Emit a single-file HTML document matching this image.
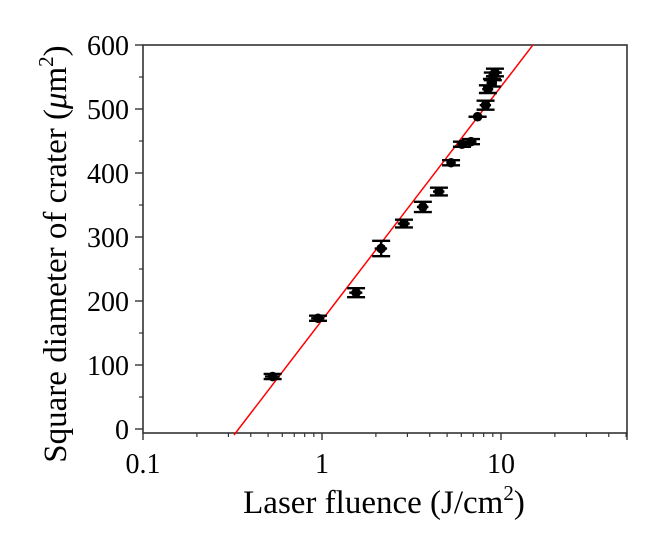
<!DOCTYPE html>
<html><head><meta charset="utf-8"><style>
html,body{margin:0;padding:0;background:#fff;}
svg{display:block;font-family:"Liberation Serif",serif;}
</style></head><body>
<svg id="chart" width="659" height="534" viewBox="0 0 659 534" xmlns="http://www.w3.org/2000/svg">
<g id="axes"></g>
<g id="marks"></g>
<text x="384" y="513" font-size="33" text-anchor="middle">Laser fluence (J/cm<tspan font-size="21" dy="-13">2</tspan><tspan dy="13">)</tspan></text>
<text transform="translate(66,254) rotate(-90)" font-size="33" text-anchor="middle">Square diameter of  crater (<tspan font-style="italic">μ</tspan>m<tspan font-size="21" dy="-13">2</tspan><tspan dy="13">)</tspan></text>
</svg>
<script>
const fluence=[0.53,0.95,1.55,2.14,2.87,3.66,4.5,5.26,6.05,6.8,7.4,8.2,8.45,8.9,9.0,9.25];
const diameterSq=[82,173,213,282,321,347,371,416,445,449,488,506,531,541,551,557];
const xErr=[0.05,0.08,0.13,0.17,0.22,0.27,0.33,0.25,0.3,0.5,0.3,0.6,0.6,0.6,0.65,0.7];
const yErr=[4,4,7,12,6,8,6,4,4,4,0,7,6,6,6,6];
const fitIntercept=170, fitSlope=365;
const yTicks=[0,100,200,300,400,500,600];
const xTicks=[0.1,1,10];
const xTickLabels=["0.1","1","10"];
const L=143,R=627,T=45,B=433;
const X=v=>L+(Math.log10(v)+1)*179;
const Y=v=>429-v*0.64;
const NS="http://www.w3.org/2000/svg";
function mk(p,tag,at){const e=document.createElementNS(NS,tag);for(const k in at)e.setAttribute(k,at[k]);p.appendChild(e);return e;}
const ax=document.getElementById('axes'), mg=document.getElementById('marks');
let f=mk(ax,'rect',{x:L,y:T,width:R-L,height:B-T,fill:'none',stroke:'#333','stroke-width':1.6});


yTicks.forEach(v=>{
 let t=mk(ax,'line',{x1:L-8,x2:L,y1:Y(v),y2:Y(v),stroke:'#333','stroke-width':1.4});
 
 
 if(v<600){let m=mk(ax,'line',{x1:L-4,x2:L,y1:Y(v+50),y2:Y(v+50),stroke:'#333','stroke-width':1.2});
 
 }
 let l=mk(ax,'text',{x:L-14,y:Y(v)+10,'font-size':28,'text-anchor':'end'});l.textContent=v;
 
 
});
xTicks.forEach((v,i)=>{
 let t=mk(ax,'line',{x1:X(v),x2:X(v),y1:B,y2:B+7,stroke:'#333','stroke-width':1.4});
 
 
 let l=mk(ax,'text',{x:X(v),y:B+40,'font-size':28,'text-anchor':'middle'});l.textContent=xTickLabels[i];
 
 
 for(let k=2;k<=9;k++){const xv=v*k;if(X(xv)>R)break;
  let m=mk(ax,'line',{x1:X(xv),x2:X(xv),y1:B,y2:B+4,stroke:'#333','stroke-width':1.2});
  
  }
});
let mt=mk(ax,'line',{x1:R,x2:R,y1:B,y2:B+7,stroke:'#333','stroke-width':1.4});


const fy=v=>fitIntercept+fitSlope*Math.log10(v);
const x0=Math.pow(10,(-9.4-fitIntercept)/fitSlope), x1=Math.pow(10,(600.5-fitIntercept)/fitSlope);
let fl=mk(mg,'line',{x1:X(x0),y1:Y(fy(x0)),x2:X(x1),y2:Y(fy(x1)),stroke:'#f00','stroke-width':1.5});


fluence.forEach((v,i)=>{
 const cx=X(v),cy=Y(diameterSq[i]);
 const g=mk(mg,'g',{});
 
 
 const s={stroke:'#000','stroke-width':2.4};
 mk(g,'line',Object.assign({x1:X(v-xErr[i]),x2:X(v+xErr[i]),y1:cy,y2:cy},s));
 const hw=9,yt=Y(diameterSq[i]+yErr[i]),yb=Y(diameterSq[i]-yErr[i]);
 mk(g,'line',Object.assign({x1:cx,x2:cx,y1:yt,y2:yb},s));
 mk(g,'line',Object.assign({x1:cx-hw,x2:cx+hw,y1:yt,y2:yt},s));
 mk(g,'line',Object.assign({x1:cx-hw,x2:cx+hw,y1:yb,y2:yb},s));
 mk(g,'circle',{cx:cx,cy:cy,r:4.8,fill:'#000'});
});
</script>
</body></html>
